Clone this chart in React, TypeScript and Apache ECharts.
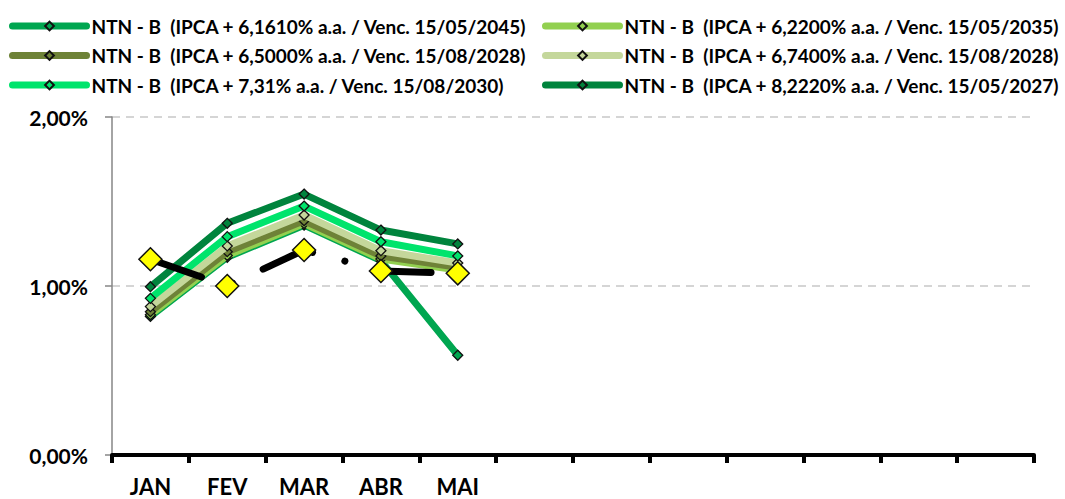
import React, { useEffect, useRef } from "react";
import * as echarts from "echarts";

const categories = ["JAN", "FEV", "MAR", "ABR", "MAI", "", "", "", "", "", "", ""];

const names = [
  "NTN - B  (IPCA + 6,1610% a.a. / Venc. 15/05/2045)",
  "NTN - B  (IPCA + 6,2200% a.a. / Venc. 15/05/2035)",
  "NTN - B  (IPCA + 6,5000% a.a. / Venc. 15/08/2028)",
  "NTN - B  (IPCA + 6,7400% a.a. / Venc. 15/08/2028)",
  "NTN - B  (IPCA + 7,31% a.a. / Venc. 15/08/2030)",
  "NTN - B  (IPCA + 8,2220% a.a. / Venc. 15/05/2027)",
];

const s2045 = [0.82, 1.17, 1.36, 1.15, 0.59];
const s2035 = [0.83, 1.18, 1.37, 1.16, 1.095];
const s2028a = [0.848, 1.203, 1.386, 1.178, 1.11];
const s2028b = [0.878, 1.237, 1.42, 1.209, 1.136];
const s2030 = [0.927, 1.292, 1.473, 1.262, 1.178];
const s2027 = [0.996, 1.371, 1.544, 1.331, 1.249];
const reference = [1.158, 1.0, 1.213, 1.089, 1.075];

const colors = ["#00A650", "#92D050", "#6E8237", "#C4D79B", "#00E46C", "#00843D"];
const seriesValues = [s2045, s2035, s2028a, s2028b, s2030, s2027];

const FONT = "Lato, 'Open Sans', sans-serif";

export default function App() {
  const ref = useRef<HTMLDivElement>(null);
  useEffect(() => {
    if (!ref.current) return;
    const chart = echarts.init(ref.current, undefined, { renderer: "svg" });
    const greenSeries = seriesValues.map((vals, i) => ({
      name: names[i],
      type: "line",
      data: vals,
      symbol: "diamond",
      symbolSize: 10,
      lineStyle: { color: colors[i], width: 7, cap: "round", join: "round" },
      itemStyle: { color: colors[i], borderColor: "#111", borderWidth: 1.3 },
      z: 2 + i,
    }));
    const legendCommon = {
      orient: "vertical",
      top: 15,
      padding: 0,
      itemWidth: 74,
      itemHeight: 11,
      itemGap: 7.5,
      lineStyle: { width: 7, cap: "round" },
      textStyle: { fontFamily: FONT, fontWeight: "bold", fontSize: 19, color: "#000", lineHeight: 22 },
      selectedMode: false,
    };
    chart.setOption({
      animation: false,
      backgroundColor: "#fff",
      legend: [
        { ...legendCommon, left: 9, data: [names[0], names[2], names[4]] },
        { ...legendCommon, left: 542, data: [names[1], names[3], names[5]] },
      ],
      grid: { left: 112, right: 31, top: 117, bottom: 44, containLabel: false },
      xAxis: {
        type: "category",
        data: categories,
        boundaryGap: true,
        axisLine: { lineStyle: { color: "#000", width: 4 } },
        axisTick: { show: true, length: 8, lineStyle: { color: "#000", width: 4 } },
        axisLabel: {
          interval: 0,
          margin: 20,
          fontFamily: FONT,
          fontWeight: "bold",
          fontSize: 22,
          lineHeight: 22,
          color: "#000",
        },
        splitLine: { show: false },
        z: 10,
      },
      yAxis: {
        type: "value",
        min: 0,
        max: 2,
        interval: 1,
        axisLine: { show: true, lineStyle: { color: "#868686", width: 1.5 } },
        axisTick: { show: true, length: 7, lineStyle: { color: "#868686", width: 1.5 } },
        axisLabel: {
          margin: 24,
          fontFamily: FONT,
          fontWeight: "bold",
          fontSize: 21,
          color: "#000",
          formatter: (v: number) => v.toFixed(2).replace(".", ",") + "%",
        },
        splitLine: { show: true, lineStyle: { color: "#c8c8c8", width: 1.5, type: [8, 6] } },
      },
      series: [
        ...greenSeries,
        {
          name: "Referência",
          type: "line",
          data: reference,
          symbol: "diamond",
          symbolSize: 23,
          lineStyle: { color: "#000", width: 7, cap: "round", join: "round", type: [54, 33.4, 0.1, 33.5] },
          itemStyle: { color: "#FFFF00", borderColor: "#111", borderWidth: 1.5 },
          z: 20,
        },
      ],
    });
    return () => chart.dispose();
  }, []);
  return (
    <div
      ref={ref}
      style={{ position: "fixed", left: 0, top: 0, width: 1065, height: 499 }}
    />
  );
}
